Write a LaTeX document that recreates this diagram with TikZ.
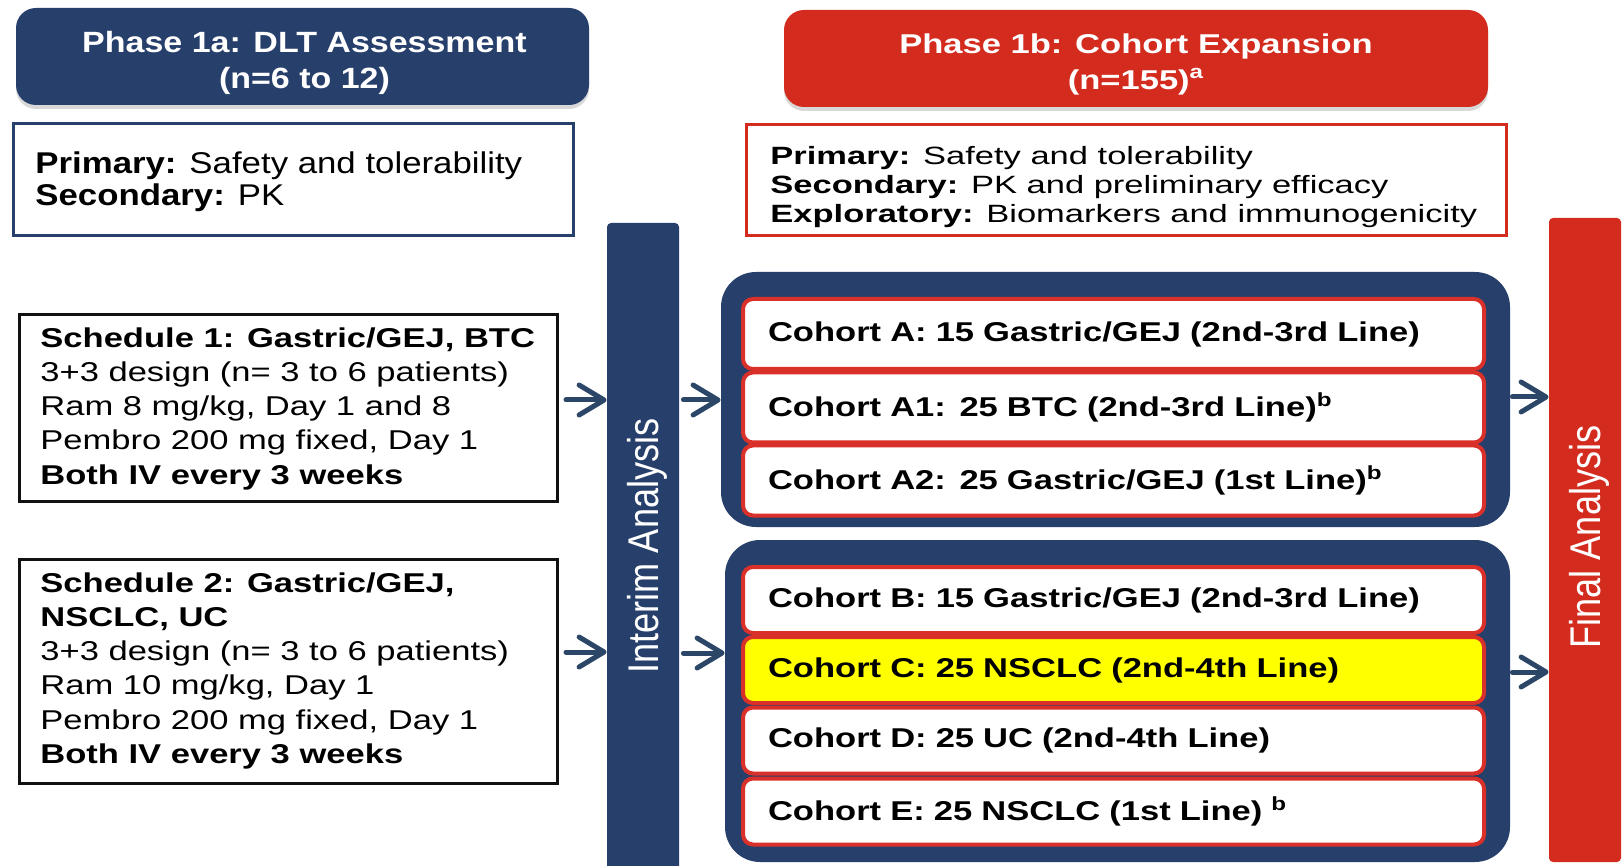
\documentclass[tikz,border=0pt]{standalone}
\usepackage{fontspec}
\setmainfont{Liberation Sans}
\newfontfamily\fA[FakeStretch=1.16]{Liberation Sans}
\newfontfamily\fB[FakeStretch=1.27]{Liberation Sans}
\newfontfamily\fC[FakeStretch=1.38]{Liberation Sans}
\newfontfamily\fR[FakeStretch=0.84]{Liberation Sans}
\usetikzlibrary{arrows.meta,shadows}
\definecolor{navy}{HTML}{273F6B}
\definecolor{redc}{HTML}{D42B1F}
\definecolor{arrowc}{HTML}{2C4668}
\definecolor{cohortred}{HTML}{D9302A}
\definecolor{hiyellow}{HTML}{FFFF00}
\definecolor{schedline}{HTML}{111111}
\begin{document}
\begin{tikzpicture}[x=0.5pt,y=-0.5pt,
  hdrbox/.style={rounded corners=10pt, inner sep=0pt,
    drop shadow={shadow xshift=0pt,shadow yshift=-2pt,opacity=0.3}},
  hdrtxt/.style={text=white, align=center, inner sep=0pt},
  pbox/.style={line width=1.5pt, fill=white, inner sep=0pt},
  txt/.style={align=left, inner sep=0pt, anchor=north west},
  gbox/.style={fill=navy, rounded corners=17.5pt, inner sep=0pt},
  cbox/.style={draw=cohortred, line width=2pt, fill=white, rounded corners=5pt,
    text width=345.5pt, inner xsep=12.5pt, inner ysep=0pt, align=left,
    font=\fB\bfseries\fontsize{13.6}{16}\selectfont},
  bar/.style={rounded corners=2pt, inner sep=0pt, minimum width=36pt},
  bartxt/.style={text=white, rotate=90, inner sep=0pt,
    font=\fR\fontsize{21.5}{24}\selectfont},
  arr/.style={draw=arrowc, line width=2.5pt, line cap=round,
    -{Straight Barb[length=12.5pt,width=15pt,round]}}
]
\useasboundingbox (0,0) rectangle (1624,866);
\fill[white] (0,0) rectangle (1624,866);

% headers
\node[hdrbox, fill=navy, minimum width=286.5pt, minimum height=48.5pt] (hdrA) at (302.5,56.5) {};
\node[hdrtxt, font=\fA\bfseries\fontsize{14.65}{18}\selectfont] (hdrAt) at (304.5,63.4)
  {Phase 1a: DLT Assessment\\(n=6 to 12)};
\node[hdrbox, fill=redc, minimum width=352pt, minimum height=48.5pt] (hdrB) at (1136,58.5) {};
\node[hdrtxt, font=\fB\bfseries\fontsize{13.6}{18}\selectfont] (hdrBt) at (1136,64.2)
  {Phase 1b: Cohort Expansion\\(n=155)\textsuperscript{a}};

% objectives
\node[pbox, draw=navy, minimum width=280pt, minimum height=56pt] (primA) at (293.5,179.5) {};
\node[txt, font=\fA\fontsize{15}{16}\selectfont] (primAt) at (35,151.2)
  {\textbf{Primary:} Safety and tolerability\\\textbf{Secondary:} PK};
\node[pbox, draw=redc, minimum width=380pt, minimum height=55.5pt] (primB) at (1126.5,180) {};
\node[txt, font=\fC\fontsize{12.5}{14.5}\selectfont] (primBt) at (770,145.8)
  {\textbf{Primary:} Safety and tolerability\\
   \textbf{Secondary:} PK and preliminary efficacy\\
   \textbf{Exploratory:} Biomarkers and immunogenicity};

% schedules
\node[pbox, draw=schedline, minimum width=269pt, minimum height=93.5pt] (sched1) at (288.5,408) {};
\node[txt, font=\fB\fontsize{13.6}{17.1}\selectfont] (sched1t) at (40,327.1)
  {\textbf{Schedule 1: Gastric/GEJ, BTC}\\
   3+3 design (n= 3 to 6 patients)\\
   Ram 8 mg/kg, Day 1 and 8\\
   Pembro 200 mg fixed, Day 1\\
   \textbf{Both IV every 3 weeks}};
\node[pbox, draw=schedline, minimum width=269pt, minimum height=112pt] (sched2) at (288.5,671.5) {};
\node[txt, font=\fB\fontsize{13.6}{17.1}\selectfont] (sched2t) at (40,572.1)
  {\textbf{Schedule 2: Gastric/GEJ,}\\
   \textbf{NSCLC, UC}\\
   3+3 design (n= 3 to 6 patients)\\
   Ram 10 mg/kg, Day 1\\
   Pembro 200 mg fixed, Day 1\\
   \textbf{Both IV every 3 weeks}};

% bars
\node[bar, fill=navy, minimum height=328.5pt] (interim) at (643,551.5) {};
\node[bartxt] (interimt) at (647,546) {Interim Analysis};
\node[bar, fill=redc, minimum height=322pt] (final) at (1585,540) {};
\node[bartxt] (finalt) at (1589,537) {Final Analysis};

% cohort groups
\node[gbox, minimum width=394.5pt, minimum height=127.5pt] (grpA) at (1115.5,399.5) {};
\node[gbox, minimum width=392.5pt, minimum height=161pt] (grpB) at (1117.5,701) {};

\node[cbox, minimum height=35pt] (cA)  at (1113.5,334)   {Cohort A: 15 Gastric/GEJ (2nd-3rd Line)};
\node[cbox, minimum height=35pt] (cA1) at (1113.5,407.5) {Cohort A1: 25 BTC (2nd-3rd Line)\textsuperscript{b}};
\node[cbox, minimum height=35pt] (cA2) at (1113.5,480.5) {Cohort A2: 25 Gastric/GEJ (1st Line)\textsuperscript{b}};

\node[cbox, minimum height=33pt] (cB) at (1113.5,600)   {Cohort B: 15 Gastric/GEJ (2nd-3rd Line)};
\node[cbox, minimum height=33pt, fill=hiyellow] (cC) at (1113.5,670) {Cohort C: 25 NSCLC (2nd-4th Line)};
\node[cbox, minimum height=33pt] (cD) at (1113.5,740.5) {Cohort D: 25 UC (2nd-4th Line)};
\node[cbox, minimum height=33pt] (cE) at (1113.5,811.5) {Cohort E: 25 NSCLC (1st Line) \textsuperscript{b}};

% arrows
\coordinate (ya) at (0,400);
\coordinate (yb) at (0,652);
\coordinate (yc) at (0,653);
\coordinate (yd) at (0,397);
\coordinate (ye) at (0,672);
\draw[arr, shorten <=3.5pt] (sched1.east |- ya) -- (interim.west |- ya);
\draw[arr, shorten <=3.5pt] (sched2.east |- yb) -- (interim.west |- yb);
\draw[arr, shorten <=2pt] (interim.east |- ya) -- (grpA.west |- ya);
\draw[arr, shorten <=2pt] (interim.east |- yc) -- (grpB.west |- yc);
\draw[arr, shorten <=1pt] (grpA.east |- yd) -- (final.west |- yd);
\draw[arr, shorten <=1pt] (grpB.east |- ye) -- (final.west |- ye);
\end{tikzpicture}
\end{document}
